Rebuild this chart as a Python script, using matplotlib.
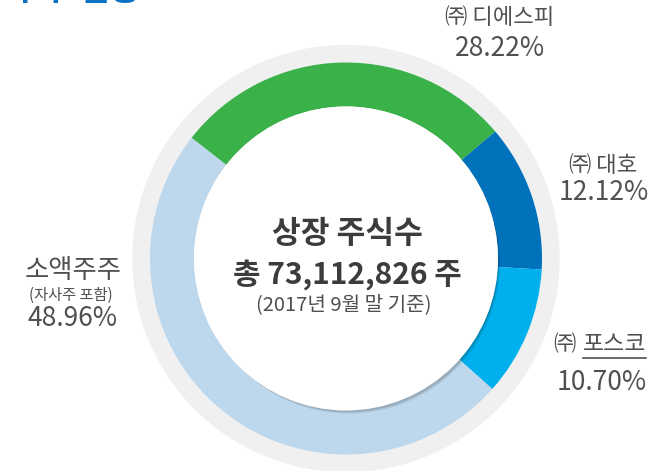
import matplotlib as mpl
mpl.use('Agg')
import matplotlib.pyplot as plt
from matplotlib.patches import Circle

plt.rcParams['font.family'] = ['Noto Sans CJK KR', 'DejaVu Sans']

# shareholder data
names = ['㈜ 디에스피', '㈜ 대호', '㈜ 포스코', '소액주주']
shares = [28.22, 12.12, 10.70, 48.96]
share_labels = ['28.22%', '12.12%', '10.70%', '48.96%']
colors = ['#3bb14a', '#0072bc', '#00b0ec', '#bdd7ec']
center_title = '상장 주식수'
center_total = '총 73,112,826 주'
center_note = '(2017년 9월 말 기준)'
minor_note = '(자사주 포함)'

W, H = 668, 471
cx, cy = 346, H - 258.5
r_out, r_in = 196, 152

fig = plt.figure(figsize=(W / 100, H / 100), dpi=100)
ax = fig.add_axes([0, 0, 1, 1])

# light gray outer ring
ax.add_patch(Circle((cx, cy), 213, color='#f0f0f0', zorder=0))

ax.pie(shares, colors=colors, startangle=142, counterclock=False,
       center=(cx, cy), radius=r_out,
       wedgeprops=dict(width=r_out - r_in, linewidth=0))

# soft shadow under the white centre
for i, a in enumerate([0.05, 0.05, 0.06, 0.07]):
    ax.add_patch(Circle((cx + 1.5 + i * 0.5, cy - 2 - i * 0.7), r_in - 1,
                        color='black', alpha=a, lw=0, zorder=3))
ax.add_patch(Circle((cx, cy), r_in, color='white', lw=0, zorder=4))

ax.set_xlim(0, W)
ax.set_ylim(0, H)
ax.set_aspect('equal')
ax.axis('off')

txt = '#505050'
# centre text
ax.text(cx + 1, H - 234, center_title, ha='center', va='center', fontsize=22.5,
        fontweight='bold', color='#3c3c3c', zorder=5)
ax.text(cx + 1, H - 275, center_total, ha='center', va='center', fontsize=21.5,
        fontweight='bold', color='#3c3c3c', zorder=5)
ax.text(cx - 2, H - 305, center_note, ha='center', va='center', fontsize=14.5,
        color=txt, zorder=5)

# outside labels
ax.text(500, H - 18, names[0], ha='center', va='center', fontsize=16, color=txt)
ax.text(500, H - 49, share_labels[0], ha='center', va='center', fontsize=19, color=txt)

ax.text(603, H - 165, names[1], ha='center', va='center', fontsize=16, color=txt)
ax.text(604, H - 193, share_labels[1], ha='center', va='center', fontsize=19, color=txt)

ax.text(576, H - 345, names[2][0], ha='right', va='center', fontsize=16, color=txt)
t_posco = ax.text(583, H - 345, names[2][2:], ha='left', va='center', fontsize=16.5, color=txt)
ax.text(602, H - 382, share_labels[2], ha='center', va='center', fontsize=19, color=txt)

ax.text(73, H - 270, names[3], ha='center', va='center', fontsize=19, color=txt)
ax.text(71, H - 295, minor_note, ha='center', va='center', fontsize=11, color=txt)
ax.text(72, H - 318, share_labels[3], ha='center', va='center', fontsize=19, color=txt)

# cut-off title in the top-left corner
ax.text(140, H, '주주 현황', ha='right', va='baseline', fontsize=24,
        fontweight='bold', color='#0a72c4')

# underline under 포스코
fig.canvas.draw()
bb = t_posco.get_window_extent().transformed(ax.transData.inverted())
ax.plot([bb.x0, bb.x1], [bb.y0 - 1, bb.y0 - 1], color=txt, lw=1.2)

fig.savefig('out.png', dpi=100)
